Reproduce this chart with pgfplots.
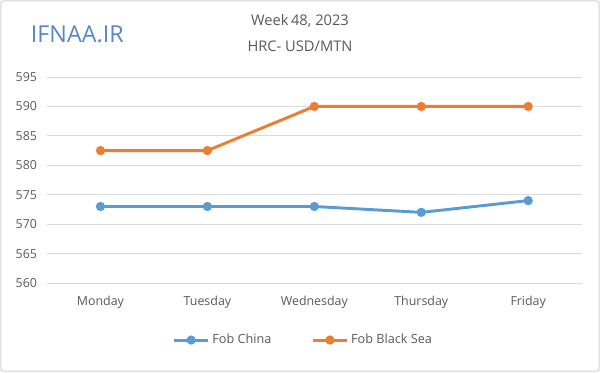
\documentclass[border=0pt]{standalone}
\usepackage{pgfplots}
\pgfplotsset{compat=1.18}
\usepackage{fontspec}
\setmainfont{Open Sans}
\definecolor{cblue}{HTML}{5B9BD5}
\definecolor{corange}{HTML}{ED7D31}
\definecolor{tgray}{HTML}{595959}
\definecolor{ggray}{HTML}{D9D9D9}
\definecolor{logob}{HTML}{5A86CC}
\begin{document}
\begin{tikzpicture}
\path[use as bounding box] (0,0) rectangle (450pt,279pt);
\draw[gray!35, line width=0.8pt, rounded corners=2pt] (0.6pt,0.6pt) rectangle (449.4pt,278.4pt);
\node[font=\fontsize{11}{12}\selectfont, text=tgray] at (225pt,263pt) {Week\,48, 2023};
\node[font=\fontsize{11}{12}\selectfont, text=tgray] at (225pt,244pt) {HRC- USD/MTN};
\node[font=\fontsize{17.5}{19}\selectfont, text=logob, draw=none] at (58pt,253pt) {IFNAA.IR};
\begin{axis}[
  at={(35.25pt,66.75pt)}, anchor=south west,
  scale only axis, width=401pt, height=154.5pt,
  xmin=-0.5, xmax=4.5, ymin=560, ymax=595,
  xtick={0,1,2,3,4},
  xticklabels={Monday,Tuesday,Wednesday,Thursday,Friday},
  ytick={560,565,...,595},
  ymajorgrids, grid style={ggray, line width=0.75pt},
  axis line style={draw=none},
  axis x line*=bottom,
  major tick length=0pt,
  tick label style={font=\fontsize{9.3}{10}\selectfont, text=tgray},
  /pgf/number format/assume math mode=true,
  /pgf/number format/1000 sep={},
  xticklabel style={yshift=-6pt},
  yticklabel style={xshift=-4pt},
  legend columns=2,
  legend style={at={(0.48,-0.277)}, anchor=center, draw=none, fill=none,
    font=\fontsize{9.5}{10}\selectfont, text=tgray,
    /tikz/every even column/.append style={column sep=28pt}},
  legend image code/.code={\draw[mark repeat=2,mark phase=2,#1] plot coordinates {(0cm,0cm)(0.45cm,0cm)(0.9cm,0cm)};},
  clip=false,
]
\addplot[cblue, line width=2.2pt, mark=*, mark size=2.3pt, mark options={solid}]
  coordinates {(0,573) (1,573) (2,573) (3,572) (4,574)};
\addlegendentry{Fob China}
\addplot[corange, line width=2.2pt, mark=*, mark size=2.3pt, mark options={solid}]
  coordinates {(0,582.5) (1,582.5) (2,590) (3,590) (4,590)};
\addlegendentry{Fob Black Sea}
\end{axis}
\end{tikzpicture}
\end{document}
